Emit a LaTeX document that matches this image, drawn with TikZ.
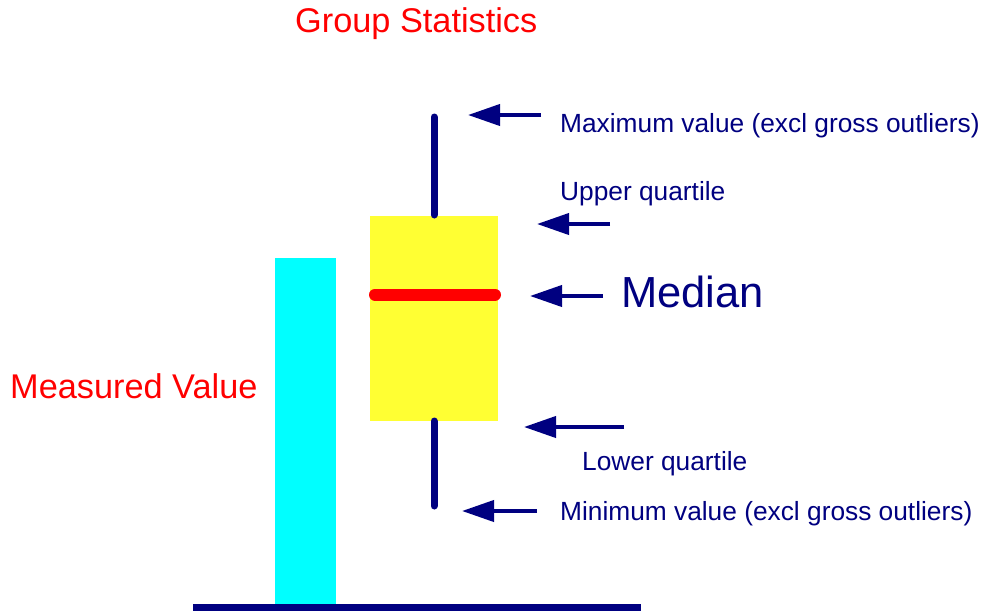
\documentclass[tikz,border=0pt]{standalone}
\usepackage{fontspec}
\setmainfont{Liberation Sans}
\usetikzlibrary{arrows.meta}

\definecolor{boxnavy}{RGB}{0,0,128}
\definecolor{boxyellow}{RGB}{255,255,51}
\definecolor{barcyan}{RGB}{0,255,255}

\begin{document}
\begin{tikzpicture}[x=1pt, y=-1pt,
    pointer/.style={boxnavy, line width=4pt, -{Triangle[length=32pt, width=21pt]}, line join=round},
    whisker/.style={boxnavy, line width=7pt, line cap=round},
    caption/.style={boxnavy, anchor=base west, inner sep=0pt, font=\fontsize{26.3}{30}\selectfont},
    title/.style={red, anchor=base west, inner sep=0pt, font=\fontsize{34.3}{39}\selectfont}]

        \useasboundingbox (0,0) rectangle (986,611);

        % Measured value bar and base line
        \fill[barcyan] (275,258) rectangle (336,605);
        \draw[boxnavy, line width=7pt] (193,607.5) -- (641,607.5);

        % Box
        \fill[boxyellow] (370,216) rectangle (498,421);

        % Whiskers
        \draw[whisker] (434,117) -- (434,215);
        \draw[whisker] (434,421) -- (434,506);

        % Median line
        \draw[red, line width=12pt, line cap=round] (375,294.5) -- (495,294.5);

        % Titles
        \node[title] (grp) at (295,32) {Group Statistics};
        \node[title] (meas) at (10,398) {Measured Value};

        % Labels
        \node[caption] (maxlbl) at (560,132) {Maximum value (excl gross outliers)};
        \node[caption] (uqlbl) at (560,200) {Upper quartile};
        \node[boxnavy, anchor=base west, inner sep=0pt, font=\fontsize{43.5}{48}\selectfont] (medlbl) at (621,307) {Median};
        \node[caption] (lqlbl) at (582,470) {Lower quartile};
        \node[caption] (minlbl) at (560,520) {Minimum value (excl gross outliers)};

        % Arrow ends
        \coordinate (maxtail) at (541,115);
        \coordinate (maxtip) at (468,115);
        \coordinate (uqtail) at (610,224);
        \coordinate (uqtip) at (537,224);
        \coordinate (medtail) at (603,296);
        \coordinate (medtip) at (530,296);
        \coordinate (lqtail) at (624,427);
        \coordinate (lqtip) at (524,427);
        \coordinate (mintail) at (537,511);
        \coordinate (mintip) at (462,511);

        % Arrows
        \draw[pointer] (maxtail) -- (maxtip);
        \draw[pointer] (uqtail) -- (uqtip);
        \draw[pointer] (medtail) -- (medtip);
        \draw[pointer] (lqtail) -- (lqtip);
        \draw[pointer] (mintail) -- (mintip);

    \end{tikzpicture}
\end{document}
